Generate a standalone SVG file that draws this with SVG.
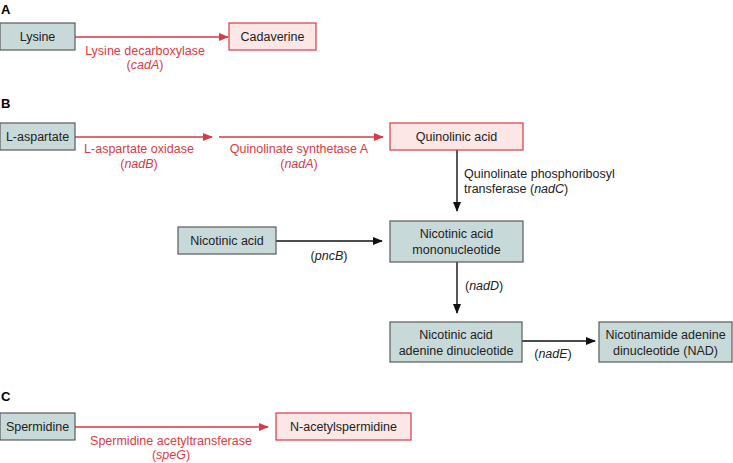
<svg xmlns="http://www.w3.org/2000/svg" width="733" height="463" viewBox="0 0 733 463">
<defs>
<marker id="ar" markerWidth="10" markerHeight="8" refX="9" refY="4" orient="auto" markerUnits="userSpaceOnUse"><path d="M0,0 L10,4 L0,8 Z" fill="#d93a45"/></marker>
<marker id="ab" markerWidth="10" markerHeight="8" refX="9" refY="4" orient="auto" markerUnits="userSpaceOnUse"><path d="M0,0 L10,4 L0,8 Z" fill="#111"/></marker>
</defs>
<style>
text{font-family:"Liberation Sans",Arial,sans-serif;font-size:12.5px;fill:#222;text-anchor:middle}
.h{font-weight:bold;font-size:13px;text-anchor:start;fill:#000}
.r{fill:#d93a45}
.g{fill:#c8d9d9;stroke:#5a5a5a;stroke-width:1.2}
.p{fill:#fde6e6;stroke:#d93a45;stroke-width:1.2}
.lr{stroke:#d93a45;stroke-width:1.4;fill:none;marker-end:url(#ar)}
.lb{stroke:#111;stroke-width:1.4;fill:none;marker-end:url(#ab)}
</style>
<rect width="733" height="463" fill="#fff"/>
<text class="h" x="1" y="14">A</text>
<text class="h" x="1" y="108">B</text>
<text class="h" x="1" y="401">C</text>
<g id="connectors">
<line class="lr" x1="75" y1="37" x2="228" y2="37"/>
<line class="lr" x1="75" y1="137" x2="212" y2="137"/>
<line class="lr" x1="219" y1="137" x2="383" y2="137"/>
<line class="lb" x1="457" y1="150" x2="457" y2="211"/>
<line class="lb" x1="276" y1="241" x2="382" y2="241"/>
<line class="lb" x1="457" y1="262" x2="457" y2="313"/>
<line class="lb" x1="522" y1="341" x2="595" y2="341"/>
<line class="lr" x1="75" y1="427" x2="268" y2="427"/>
<text class="r" x="145" y="55">Lysine decarboxylase</text>
<text class="r" x="145" y="69">(<tspan font-style="italic">cadA</tspan>)</text>
<text class="r" x="139" y="153">L-aspartate oxidase</text>
<text class="r" x="139" y="168">(<tspan font-style="italic">nadB</tspan>)</text>
<text class="r" x="299" y="153">Quinolinate synthetase A</text>
<text class="r" x="299" y="168">(<tspan font-style="italic">nadA</tspan>)</text>
<text x="464" y="178" style="text-anchor:start">Quinolinate phosphoribosyl</text>
<text x="464" y="193" style="text-anchor:start">transferase (<tspan font-style="italic">nadC</tspan>)</text>
<text x="329" y="260">(<tspan font-style="italic">pncB</tspan>)</text>
<text x="465" y="290" style="text-anchor:start">(<tspan font-style="italic">nadD</tspan>)</text>
<text x="553" y="358">(<tspan font-style="italic">nadE</tspan>)</text>
<text class="r" x="171" y="445">Spermidine acetyltransferase</text>
<text class="r" x="171" y="459">(<tspan font-style="italic">speG</tspan>)</text>
</g>
<g id="lysine"><rect class="g" x="0" y="23" width="75" height="27"/><text x="37.5" y="41">Lysine</text></g>
<g id="cadaverine"><rect class="p" x="229" y="23" width="87" height="27"/><text x="272.5" y="41">Cadaverine</text></g>
<g id="laspartate"><rect class="g" x="0" y="123" width="75" height="27"/><text x="37.5" y="141">L-aspartate</text></g>
<g id="quinolinic"><rect class="p" x="390" y="123" width="133" height="27"/><text x="456.5" y="141">Quinolinic acid</text></g>
<g id="nicotinic"><rect class="g" x="178" y="227" width="98" height="27"/><text x="227" y="245">Nicotinic acid</text></g>
<g id="namn"><rect class="g" x="390" y="221" width="133" height="41"/><text x="456.5" y="238">Nicotinic acid</text><text x="456.5" y="254">mononucleotide</text></g>
<g id="naad"><rect class="g" x="390" y="322" width="132" height="40"/><text x="456" y="339">Nicotinic acid</text><text x="456" y="355">adenine dinucleotide</text></g>
<g id="nad"><rect class="g" x="599" y="322" width="133" height="40"/><text x="665.5" y="339">Nicotinamide adenine</text><text x="665.5" y="355">dinucleotide (NAD)</text></g>
<g id="spermidine"><rect class="g" x="0" y="413" width="75" height="27"/><text x="37.5" y="431">Spermidine</text></g>
<g id="nacetyl"><rect class="p" x="276" y="413" width="135" height="27"/><text x="343.5" y="431">N-acetylspermidine</text></g>
</svg>
